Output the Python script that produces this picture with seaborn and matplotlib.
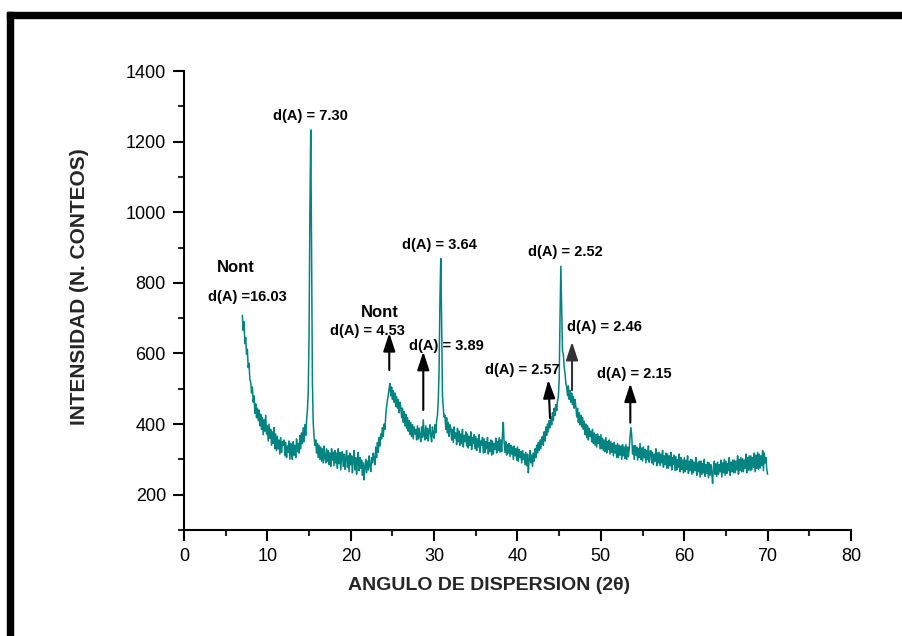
import numpy as np
import pandas as pd
import matplotlib
matplotlib.use("Agg")
import matplotlib.pyplot as plt
from matplotlib.ticker import MultipleLocator
import seaborn as sns

# ---- data: XRD intensity, 2theta from 7.0 to 70.0 step 0.1 ----
two_theta_start = 7.0
two_theta_end = 70.0
intensity = [
    708, 665, 690, 628, 645, 598, 612, 560, 572, 525,   # 7
    520, 488, 505, 462, 480, 430, 458, 418, 445, 410,   # 8
    440, 395, 428, 385, 418, 370, 412, 380, 425, 372,   # 9
    395, 352, 400, 360, 385, 340, 378, 345, 390, 330,   # 10
    372, 325, 365, 330, 355, 315, 362, 320, 350, 340,   # 11
    355, 310, 348, 305, 338, 320, 352, 300, 345, 315,   # 12
    300, 350, 312, 340, 305, 358, 322, 345, 318, 368,   # 13
    330, 375, 345, 390, 350, 398, 368, 410, 440, 490,   # 14
    650, 1000, 1233, 900, 520, 402, 365, 340, 355, 318, # 15
    345, 305, 340, 300, 335, 295, 330, 290, 338, 305,   # 16
    290, 330, 295, 325, 285, 318, 280, 330, 298, 320,   # 17
    282, 325, 290, 318, 275, 330, 288, 320, 270, 312,   # 18
    322, 280, 315, 272, 305, 325, 278, 310, 265, 318,   # 19
    285, 310, 262, 300, 325, 270, 305, 258, 295, 320,   # 20
    268, 305, 275, 298, 255, 290, 242, 280, 300, 262,   # 21
    295, 270, 310, 282, 265, 305, 290, 318, 300, 285,   # 22
    335, 305, 348, 320, 362, 338, 372, 358, 390, 365,   # 23
    400, 385, 425, 450, 468, 482, 500, 515, 480, 505,   # 24
    470, 495, 462, 488, 450, 478, 445, 470, 432, 462,   # 25
    450, 418, 445, 405, 435, 395, 428, 388, 418, 380,   # 26
    410, 370, 405, 365, 398, 358, 392, 372, 385, 355,   # 27
    395, 358, 388, 365, 350, 392, 362, 412, 370, 355,   # 28
    395, 360, 388, 352, 380, 398, 365, 350, 392, 370,   # 29
    360, 398, 375, 410, 425, 468, 560, 760, 869, 690,   # 30
    480, 445, 420, 425, 385, 418, 375, 405, 365, 398,   # 31
    390, 355, 385, 348, 392, 360, 375, 342, 388, 350,   # 32
    380, 340, 372, 345, 385, 335, 368, 350, 378, 338,   # 33
    372, 332, 365, 340, 378, 328, 362, 345, 370, 330,   # 34
    365, 325, 358, 335, 370, 320, 352, 340, 362, 318,   # 35
    358, 320, 350, 330, 362, 315, 348, 322, 355, 312,   # 36
    352, 315, 345, 328, 360, 318, 350, 325, 362, 320,   # 37
    355, 322, 372, 405, 345, 320, 350, 312, 342, 318,   # 38
    345, 308, 340, 315, 335, 300, 338, 310, 330, 298,   # 39
    335, 295, 328, 305, 322, 290, 325, 300, 315, 285,   # 40
    320, 282, 315, 262, 300, 325, 290, 312, 280, 318,   # 41
    295, 330, 305, 340, 318, 348, 325, 355, 330, 360,   # 42
    365, 340, 378, 352, 392, 368, 400, 378, 410, 390,   # 43
    420, 398, 432, 410, 445, 425, 455, 438, 465, 478,   # 44
    525, 700, 847, 720, 605, 598, 560, 545, 515, 505,   # 45
    480, 508, 470, 495, 462, 488, 455, 478, 445, 470,   # 46
    450, 420, 445, 405, 432, 398, 425, 392, 418, 385,   # 47
    408, 370, 400, 362, 395, 355, 388, 365, 380, 350,   # 48
    385, 345, 375, 340, 370, 335, 372, 345, 365, 330,   # 49
    370, 330, 360, 325, 355, 322, 362, 318, 350, 328,   # 50
    355, 315, 350, 320, 345, 310, 348, 318, 340, 305,   # 51
    345, 305, 340, 312, 338, 300, 342, 310, 335, 302,   # 52
    342, 300, 335, 308, 330, 365, 390, 368, 315, 338,   # 53
    300, 340, 312, 335, 298, 330, 305, 345, 300, 332,   # 54
    295, 335, 305, 328, 290, 325, 300, 338, 292, 320,   # 55
    325, 290, 320, 285, 315, 295, 330, 282, 318, 290,   # 56
    320, 282, 315, 290, 325, 278, 310, 285, 318, 275,   # 57
    315, 275, 310, 282, 320, 270, 305, 285, 312, 268,   # 58
    308, 270, 300, 278, 315, 265, 305, 272, 298, 262,   # 59
    305, 265, 298, 272, 310, 260, 295, 268, 300, 258,   # 60
    298, 262, 292, 268, 305, 255, 290, 265, 295, 250,   # 61
    295, 258, 288, 262, 300, 252, 285, 260, 292, 248,   # 62
    290, 255, 285, 262, 232, 280, 295, 258, 288, 252,   # 63
    292, 258, 285, 265, 298, 250, 290, 262, 300, 255,   # 64
    295, 260, 288, 268, 305, 255, 292, 265, 298, 262,   # 65
    298, 262, 295, 270, 310, 258, 300, 268, 305, 265,   # 66
    302, 265, 298, 275, 315, 262, 305, 270, 310, 268,   # 67
    310, 270, 305, 278, 318, 265, 312, 275, 320, 272,   # 68
    315, 275, 310, 282, 325, 268, 318, 290, 305, 270,   # 69
    258,                                                # 70
]
two_theta = np.linspace(two_theta_start, two_theta_end, len(intensity))

# annotation labels (text, x, y)
label_texts = ["d(A) = 7.30", "Nont", "d(A) =16.03", "d(A) = 3.64", "d(A) = 2.52",
               "Nont", "d(A) = 4.53", "d(A) = 3.89", "d(A) = 2.57", "d(A) = 2.46",
               "d(A) = 2.15"]
label_x = [15.17, 6.17, 7.61, 30.58, 45.70, 23.45, 21.95, 31.42, 40.54, 50.41, 54.0]
label_y = [1273, 843, 761, 907, 886, 715, 664, 621, 553, 676, 541]

# arrows: tail (x, y) -> head (x, y)
arrow_tail_x = [24.62, 28.70, 43.90, 46.54, 53.53]
arrow_tail_y = [553, 440, 417, 496, 404]
arrow_head_x = [24.62, 28.70, 43.70, 46.54, 53.53]
arrow_head_y = [658, 605, 525, 633, 515]
arrow_colors = ["black", "black", "black", "#333333", "black"]

x_ticks = [0, 10, 20, 30, 40, 50, 60, 70, 80]
y_ticks = [200, 400, 600, 800, 1000, 1200, 1400]

# ---- plotting ----
sns.set_style("ticks")
plt.rcParams["font.family"] = ["Liberation Sans", "DejaVu Sans"]

fig = plt.figure(figsize=(9.03, 6.36), dpi=100)
ax = fig.add_axes([184 / 903, 1 - 530 / 636, (851 - 184) / 903, (530 - 71) / 636])

df = pd.DataFrame({"two_theta": two_theta, "intensity": intensity})
sns.lineplot(data=df, x="two_theta", y="intensity", ax=ax, color="#008482",
             linewidth=1.1, estimator=None, sort=False)

ax.set_xlim(0, 80)
ax.set_ylim(100, 1400)
ax.set_xticks(x_ticks)
ax.set_yticks(y_ticks)
ax.xaxis.set_minor_locator(MultipleLocator(5))
ax.yaxis.set_minor_locator(MultipleLocator(100))
ax.tick_params(axis="both", which="major", direction="out", length=8, width=1.5,
               labelsize=13, colors="black", pad=5)
ax.tick_params(axis="both", which="minor", direction="out", length=4, width=1.5)

for side in ["top", "right"]:
    ax.spines[side].set_visible(False)
for side in ["left", "bottom"]:
    ax.spines[side].set_linewidth(1.5)
    ax.spines[side].set_color("black")

ax.set_xlabel("ANGULO DE DISPERSION (2θ)", fontsize=14, fontweight="bold")
ax.set_ylabel("INTENSIDAD (N. CONTEOS)", fontsize=15, fontweight="bold")
ax.xaxis.set_label_coords((489 - 184) / 667, (530 - 585) / 459)
ax.yaxis.set_label_coords((80 - 184) / 667, (530 - 287) / 459)
ax.xaxis.label.set_va("center")
ax.yaxis.label.set_va("center")

for t, lx, ly in zip(label_texts, label_x, label_y):
    fs = 12 if t == "Nont" else 10.5
    ax.text(lx, ly, t, ha="center", va="center", fontsize=fs, fontweight="bold", color="black")

for tx, ty, hx, hy, c in zip(arrow_tail_x, arrow_tail_y, arrow_head_x, arrow_head_y, arrow_colors):
    ax.annotate("", xy=(hx, hy), xytext=(tx, ty),
                arrowprops=dict(arrowstyle="-|>,head_length=0.55,head_width=0.18",
                                color=c, lw=1.5, mutation_scale=20,
                                shrinkA=0, shrinkB=0))

# black frame (top and left edges)
fig.patches.append(plt.Rectangle((7 / 903, 1 - 18 / 636), 1.0, 6 / 636,
                                 transform=fig.transFigure, color="black", zorder=10))
fig.patches.append(plt.Rectangle((7 / 903, 0), 6 / 903, 1 - 12 / 636,
                                 transform=fig.transFigure, color="black", zorder=10))

fig.savefig("out.png", dpi=100)
